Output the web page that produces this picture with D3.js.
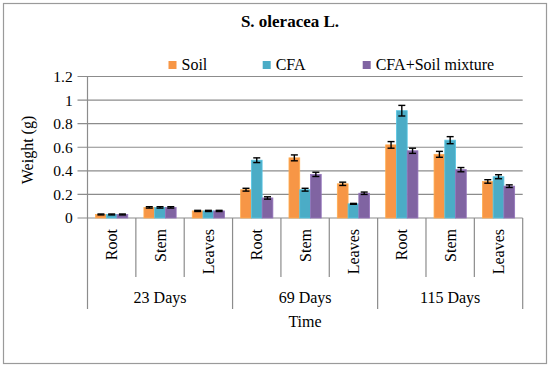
<!DOCTYPE html>
<html>
<head>
<meta charset="utf-8">
<script src="https://cdn.jsdelivr.net/npm/d3@7"></script>
<style>
  body { margin: 0; background: #fff; }
  svg text { font-family: "Liberation Serif", serif; fill: #000; }
</style>
</head>
<body>
<div id="chart"></div>
<script>
const groups = ['23 Days', '69 Days', '115 Days'];
const parts = ['Root', 'Stem', 'Leaves'];
const series = ['Soil', 'CFA', 'CFA+Soil mixture'];
const colors = ['#F79646', '#4BACC6', '#8064A2'];
const yTicks = [0, 0.2, 0.4, 0.6, 0.8, 1, 1.2];

// values per category: 23d Root, Stem, Leaves, 69d ..., 115d ...
const soil = [0.03, 0.09, 0.06, 0.24, 0.51, 0.29, 0.62, 0.54, 0.31];
const cfa  = [0.03, 0.09, 0.06, 0.49, 0.24, 0.12, 0.91, 0.66, 0.35];
const mix  = [0.03, 0.09, 0.06, 0.17, 0.37, 0.21, 0.57, 0.41, 0.27];
const soilErr = [0.004, 0.006, 0.005, 0.012, 0.025, 0.014, 0.028, 0.025, 0.015];
const cfaErr  = [0.004, 0.006, 0.005, 0.02, 0.012, 0.004, 0.045, 0.03, 0.017];
const mixErr  = [0.004, 0.006, 0.005, 0.01, 0.018, 0.01, 0.022, 0.018, 0.011];

const W = 550, H = 368;
const plotL = 87.5, plotR = 522.7, plotT = 76.5, base = 218;

const svg = d3.select('#chart').append('svg')
  .attr('width', W).attr('height', H);

svg.append('rect')
  .attr('x', 3.5).attr('y', 3.5).attr('width', 543).attr('height', 360)
  .attr('fill', '#fff').attr('stroke', '#9a9a9a').attr('stroke-width', 1.2);

const cats = [];
groups.forEach(g => parts.forEach(p => cats.push(g + '|' + p)));

const x0 = d3.scaleBand().domain(cats).range([plotL, plotR]);
const x1 = d3.scaleBand().domain(series).range([0, x0.bandwidth()]).paddingOuter(0.75);
const y = d3.scaleLinear().domain([0, 1.2]).range([base, plotT]);
const gx = d3.scaleBand().domain(groups).range([plotL, plotR]);

// gridlines
svg.append('g').selectAll('line').data(yTicks).enter().append('line')
  .attr('x1', plotL - 10).attr('x2', plotR)
  .attr('y1', d => y(d)).attr('y2', d => y(d))
  .attr('stroke', '#8c8c8c').attr('stroke-width', 1.2);

// y axis line
svg.append('line').attr('x1', plotL).attr('x2', plotL).attr('y1', plotT).attr('y2', base)
  .attr('stroke', '#8c8c8c').attr('stroke-width', 1.2);

svg.append('g').selectAll('text').data(yTicks).enter().append('text')
  .attr('x', 72.7).attr('y', d => y(d)).attr('dy', '0.35em')
  .attr('text-anchor', 'end').attr('font-size', 15.5)
  .text(d => d);

svg.append('text')
  .attr('transform', 'translate(33,150) rotate(-90)')
  .attr('text-anchor', 'middle').attr('font-size', 16)
  .text('Weight (g)');

// bars
const data = [soil, cfa, mix];
const errs = [soilErr, cfaErr, mixErr];
series.forEach((s, si) => {
  const g = svg.append('g');
  g.selectAll('rect').data(cats).enter().append('rect')
    .attr('x', c => x0(c) + x1(s))
    .attr('y', (c, i) => y(data[si][i]))
    .attr('width', x1.bandwidth())
    .attr('height', (c, i) => base - y(data[si][i]))
    .attr('fill', colors[si])
    .attr('stroke', d3.color(colors[si]).brighter(0.4))
    .attr('stroke-width', 0.8);
});

// error bars
series.forEach((s, si) => {
  const g = svg.append('g').attr('stroke', '#000').attr('stroke-width', 1.4);
  cats.forEach((c, i) => {
    const cx = x0(c) + x1(s) + x1.bandwidth() / 2;
    const v = data[si][i], e = errs[si][i];
    g.append('line').attr('x1', cx).attr('x2', cx).attr('y1', y(v + e)).attr('y2', y(v - e));
    g.append('line').attr('x1', cx - 3.5).attr('x2', cx + 3.5).attr('y1', y(v + e)).attr('y2', y(v + e));
    g.append('line').attr('x1', cx - 3.5).attr('x2', cx + 3.5).attr('y1', y(v - e)).attr('y2', y(v - e));
  });
});

// category separators
const seps = cats.map(c => x0(c)).concat([plotR]);
svg.append('g').selectAll('line').data(seps).enter().append('line')
  .attr('x1', d => d).attr('x2', d => d)
  .attr('y1', base).attr('y2', (d, i) => i % 3 === 0 ? 309 : 277)
  .attr('stroke', '#8c8c8c').attr('stroke-width', 1.2);

// category labels
svg.append('g').selectAll('text').data(cats).enter().append('text')
  .attr('transform', c => `translate(${x0(c) + x0.bandwidth() / 2},229) rotate(-90)`)
  .attr('dy', '0.35em').attr('text-anchor', 'end').attr('font-size', 16)
  .text(c => c.split('|')[1]);

// group labels
svg.append('g').selectAll('text').data(groups).enter().append('text')
  .attr('x', g => gx(g) + gx.bandwidth() / 2).attr('y', 303)
  .attr('text-anchor', 'middle').attr('font-size', 16)
  .text(g => g);

svg.append('text').attr('x', 305).attr('y', 327)
  .attr('text-anchor', 'middle').attr('font-size', 16).text('Time');

// title
svg.append('text').attr('x', 290).attr('y', 27)
  .attr('text-anchor', 'middle').attr('font-size', 17).attr('font-weight', 'bold')
  .text('S. oleracea L.');

// legend
const legX = [168.5, 262.7, 362.7];
const leg = svg.append('g').selectAll('g').data(series).enter().append('g')
  .attr('transform', (d, i) => `translate(${legX[i]},61)`);
leg.append('rect').attr('width', 8).attr('height', 8).attr('fill', (d, i) => colors[i]);
leg.append('text').attr('x', 13).attr('y', 9).attr('font-size', 16).text(d => d);
</script>
</body>
</html>
